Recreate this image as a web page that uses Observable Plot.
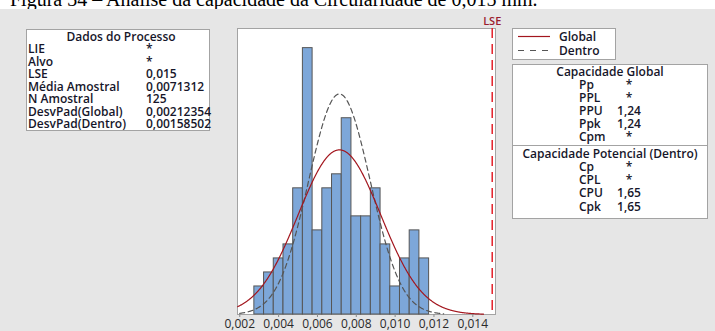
<!DOCTYPE html>
<html>
<head>
<meta charset="utf-8">
<script src="https://cdn.jsdelivr.net/npm/d3@7"></script>
<script src="https://cdn.jsdelivr.net/npm/@observablehq/plot@0.6"></script>
<style>
  html, body { margin: 0; padding: 0; background: #ffffff; }
  #page { position: relative; width: 715px; height: 331px; overflow: hidden; }
  #caption { position: absolute; left: 10px; top: -11px; font: 20px/20px "Liberation Serif", serif; color: #000; white-space: nowrap; }
  #panel { position: absolute; left: 0; top: 9px; width: 715px; height: 322px; background: #e6e6e6; }
  #chart { position: absolute; left: 0; top: 0; }
  .box { position: absolute; background: #fff; border: 1px solid #a3a3a3; box-sizing: border-box; }
  .t { position: absolute; font: 600 12px/12px "Open Sans", sans-serif; color: #16162a; white-space: nowrap; }
</style>
</head>
<body>
<div id="page">
  <div id="caption">Figura 34 – Análise da capacidade da Circularidade de 0,015 mm.</div>
  <div id="panel"></div>
  <div id="chart"></div>
</div>
<script>
// Histogram of circularity measurements (bin midpoints, bin width 0.0005 mm)
const binMids = [0.0030, 0.0035, 0.0040, 0.0045, 0.0050, 0.0055, 0.0060, 0.0065, 0.0070,
                 0.0075, 0.0080, 0.0085, 0.0090, 0.0095, 0.0100, 0.0105, 0.0110, 0.0115];
const binCounts = [2, 3, 4, 5, 9, 19, 6, 9, 10, 14, 7, 7, 9, 5, 2, 4, 6, 4];
const binWidth = 0.0005;

// Process data
const lse = 0.015;
const sampleMean = 0.0071312;
const sampleN = 125;
const sdOverall = 0.00212354;
const sdWithin = 0.00158502;

// Axis ticks
const tickValues = [0.002, 0.004, 0.006, 0.008, 0.010, 0.012, 0.014];
const tickLabels = ["0,002", "0,004", "0,006", "0,008", "0,010", "0,012", "0,014"];

// Table texts
const processLabels = ["LIE", "Alvo", "LSE", "Média Amostral", "N Amostral", "DesvPad(Global)", "DesvPad(Dentro)"];
const processValues = ["*", "*", "0,015", "0,0071312", "125", "0,00212354", "0,00158502"];
const overallLabels = ["Pp", "PPL", "PPU", "Ppk", "Cpm"];
const overallValues = ["*", "*", "1,24", "1,24", "*"];
const withinLabels = ["Cp", "CPL", "CPU", "Cpk"];
const withinValues = ["*", "*", "1,65", "1,65"];

const bins = binMids.map((m, i) => ({x1: m - binWidth / 2, x2: m + binWidth / 2, count: binCounts[i]}));

// Fitted normal curves, scaled to histogram counts
function normalCurve(sd, lo, hi) {
  const k = sampleN * binWidth / (sd * Math.sqrt(2 * Math.PI));
  return d3.range(lo, hi + 1e-9, 0.00002).map(x => ({x, y: k * Math.exp(-0.5 * ((x - sampleMean) / sd) ** 2)}));
}
const overallCurve = normalCurve(sdOverall, 0.00189, 0.01456);
const withinCurve = normalCurve(sdWithin, 0.00200, 0.01250);

const chart = Plot.plot({
  width: 715,
  height: 331,
  marginLeft: 237,
  marginRight: 220,
  marginTop: 28,
  marginBottom: 17,
  style: {background: "transparent", fontFamily: "'Open Sans', sans-serif", fontSize: "12px", color: "#2a2a2a", overflow: "visible"},
  x: {domain: [0.001882, 0.015169], label: null},
  y: {domain: [0, 20.4], axis: null},
  marks: [
    Plot.frame({fill: "#ffffff", stroke: "#a3a3a3"}),
    Plot.rectY(bins, {x1: "x1", x2: "x2", y: "count", fill: "#7da7d9", stroke: "#565656", strokeWidth: 1, inset: 0}),
    Plot.line(withinCurve, {x: "x", y: "y", stroke: "#555555", strokeWidth: 1.2, strokeDasharray: "5,3.5"}),
    Plot.line(overallCurve, {x: "x", y: "y", stroke: "#a3161e", strokeWidth: 1.2}),
    Plot.ruleX([lse], {stroke: "#e4222b", strokeWidth: 1.5, strokeDasharray: "10,6"}),
    Plot.text(["LSE"], {x: () => lse, frameAnchor: "top", dy: -11, fill: "#9b1c2e", fontWeight: 600, fontSize: 11}),
    Plot.axisX({ticks: tickValues, tickFormat: d => tickLabels[tickValues.indexOf(d)], tickSize: 3, tickPadding: 2, stroke: "#8a8a8a"})
  ]
});
document.getElementById("chart").appendChild(chart);

// Info boxes drawn as HTML beside the chart
const page = document.getElementById("page");
function box(left, top, width, height) {
  const b = document.createElement("div");
  b.className = "box";
  Object.assign(b.style, {left: left + "px", top: top + "px", width: width + "px", height: height + "px"});
  page.appendChild(b);
  return b;
}
function text(str, x, cy, anchor) {
  const t = document.createElement("div");
  t.className = "t";
  t.textContent = str;
  t.style.top = (cy - 6) + "px";
  t.style.left = x + "px";
  if (anchor === "middle") t.style.transform = "translateX(-50%)";
  page.appendChild(t);
  return t;
}

box(26, 29, 184, 102);
text("Dados do Processo", 121, 36.5, "middle");
processLabels.forEach((s, i) => {
  const cy = 49 + 12.55 * i;
  text(s, 28, cy);
  text(processValues[i], 146, cy);
});

box(512, 28, 104, 32);
const leg = document.createElementNS("http://www.w3.org/2000/svg", "svg");
leg.setAttribute("width", 715); leg.setAttribute("height", 80);
Object.assign(leg.style, {position: "absolute", left: "0px", top: "0px"});
leg.innerHTML = '<line x1="518" x2="550" y1="36.5" y2="36.5" stroke="#a3161e" stroke-width="1.2"/>' +
                '<line x1="518" x2="550" y1="50.5" y2="50.5" stroke="#555" stroke-width="1.2" stroke-dasharray="6,6"/>';
page.appendChild(leg);
text("Global", 559, 37);
text("Dentro", 559, 50.5);

box(512, 64, 196, 155);
const divider = document.createElement("div");
Object.assign(divider.style, {position: "absolute", left: "512px", top: "145px", width: "196px", height: "1px", background: "#a3a3a3"});
page.appendChild(divider);
text("Capacidade Global", 610, 71.5, "middle");
overallLabels.forEach((s, i) => {
  const cy = 84.5 + 13 * i;
  text(s, 579, cy);
  text(overallValues[i], 629, cy, "middle");
});
text("Capacidade Potencial (Dentro)", 610, 153.5, "middle");
withinLabels.forEach((s, i) => {
  const cy = 167 + 13.2 * i;
  text(s, 579, cy);
  text(withinValues[i], 629, cy, "middle");
});
</script>
</body>
</html>
